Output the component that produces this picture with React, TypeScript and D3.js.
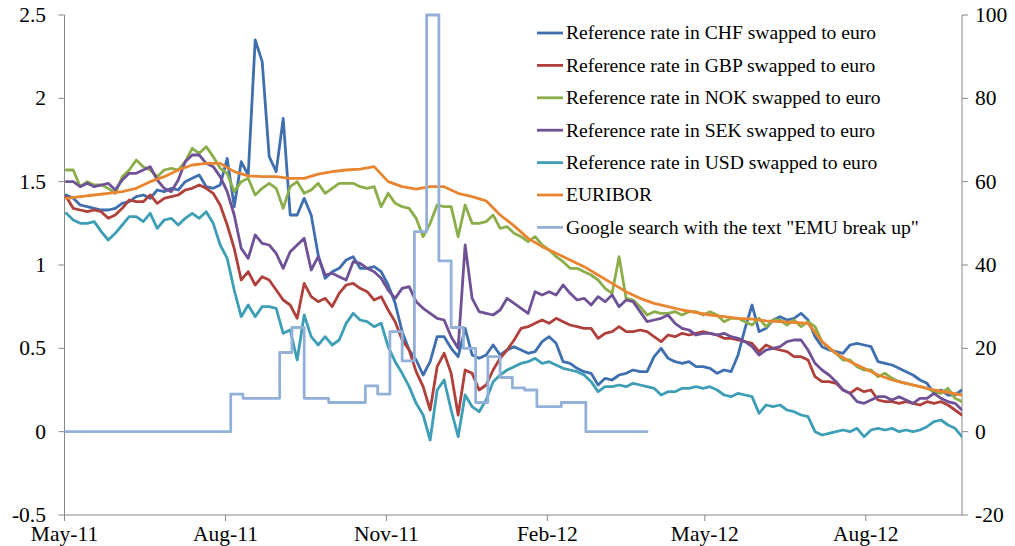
import React from "react";
import * as d3 from "d3";

// ---------- data ----------
const xTickDates = [
  new Date(2011, 4, 1), new Date(2011, 7, 1), new Date(2011, 10, 1),
  new Date(2012, 1, 1), new Date(2012, 4, 1), new Date(2012, 7, 1),
];
const xTickLabels = ["May-11", "Aug-11", "Nov-11", "Feb-12", "May-12", "Aug-12"];
const leftTicks = [-0.5, 0, 0.5, 1, 1.5, 2, 2.5];
const leftTickLabels = ["-0.5", "0", "0.5", "1", "1.5", "2", "2.5"];
const rightTicks = [-20, 0, 20, 40, 60, 80, 100];
const rightTickLabels = ["-20", "0", "20", "40", "60", "80", "100"];

// daily series sampled every 4 days starting 2 May 2011
const chf = [1.42,1.40,1.36,1.35,1.34,1.33,1.33,1.34,1.37,1.38,
1.41,1.42,1.40,1.45,1.44,1.46,1.45,1.50,1.52,1.54,
1.47,1.46,1.48,1.64,1.35,1.62,1.54,2.35,2.22,1.65,
1.56,1.88,1.30,1.30,1.40,1.30,1.06,0.92,0.96,0.98,
1.03,1.05,0.98,0.98,0.99,0.96,0.88,0.77,0.60,0.49,
0.43,0.34,0.42,0.57,0.57,0.50,0.45,0.62,0.46,0.44,
0.46,0.52,0.46,0.49,0.51,0.49,0.47,0.48,0.54,0.57,
0.53,0.42,0.41,0.38,0.36,0.35,0.28,0.32,0.31,0.34,
0.35,0.37,0.36,0.36,0.45,0.50,0.44,0.42,0.41,0.42,
0.39,0.39,0.38,0.35,0.37,0.36,0.46,0.62,0.76,0.60,
0.62,0.67,0.69,0.67,0.68,0.71,0.67,0.57,0.51,0.49,
0.48,0.47,0.52,0.53,0.52,0.51,0.42,0.41,0.40,0.38,
0.36,0.34,0.31,0.29,0.23,0.25,0.22,0.22,0.25];
const gbp = [1.41,1.34,1.33,1.32,1.33,1.32,1.28,1.30,1.34,1.39,
1.38,1.38,1.42,1.37,1.40,1.41,1.42,1.45,1.46,1.48,
1.46,1.43,1.36,1.24,1.10,0.91,0.96,0.88,0.93,0.91,
0.85,0.79,0.76,0.68,0.89,0.81,0.78,0.80,0.75,0.83,
0.88,0.89,0.86,0.84,0.79,0.81,0.73,0.66,0.55,0.49,
0.36,0.27,0.13,0.39,0.47,0.35,0.10,0.37,0.35,0.25,
0.28,0.37,0.44,0.49,0.55,0.62,0.63,0.65,0.67,0.65,
0.68,0.66,0.64,0.63,0.62,0.62,0.56,0.59,0.60,0.63,
0.60,0.60,0.61,0.60,0.57,0.54,0.58,0.57,0.59,0.58,
0.59,0.60,0.59,0.58,0.56,0.56,0.55,0.54,0.53,0.48,
0.52,0.50,0.49,0.48,0.45,0.45,0.43,0.33,0.30,0.30,
0.29,0.25,0.23,0.26,0.24,0.25,0.19,0.18,0.18,0.17,
0.18,0.17,0.16,0.18,0.17,0.18,0.16,0.13,0.10];
const nok = [1.57,1.57,1.47,1.50,1.48,1.48,1.46,1.43,1.53,1.57,
1.63,1.59,1.57,1.53,1.57,1.58,1.57,1.62,1.70,1.67,
1.71,1.65,1.58,1.55,1.44,1.50,1.52,1.42,1.46,1.49,
1.46,1.34,1.47,1.50,1.43,1.45,1.49,1.43,1.46,1.49,
1.49,1.49,1.47,1.46,1.47,1.35,1.43,1.37,1.35,1.34,
1.28,1.17,1.25,1.36,1.35,1.35,1.17,1.36,1.25,1.25,
1.26,1.30,1.22,1.23,1.19,1.17,1.14,1.17,1.12,1.09,
1.05,1.02,0.98,0.98,0.96,0.94,0.91,0.86,0.83,1.05,
0.80,0.79,0.75,0.70,0.72,0.71,0.71,0.72,0.70,0.72,
0.72,0.70,0.72,0.70,0.66,0.68,0.68,0.66,0.64,0.68,
0.63,0.67,0.67,0.64,0.67,0.63,0.66,0.63,0.54,0.50,
0.47,0.43,0.43,0.39,0.37,0.37,0.33,0.35,0.32,0.30,
0.29,0.28,0.27,0.26,0.24,0.23,0.26,0.20,0.18];
const sek = [1.50,1.50,1.47,1.49,1.47,1.48,1.49,1.45,1.51,1.55,
1.55,1.57,1.59,1.51,1.46,1.44,1.51,1.62,1.66,1.66,
1.61,1.59,1.53,1.44,1.30,1.10,1.04,1.18,1.13,1.12,
1.07,0.98,1.08,1.12,1.16,0.97,1.05,0.94,0.95,0.93,
0.91,1.02,1.01,0.98,0.96,0.92,0.85,0.80,0.86,0.87,
0.78,0.74,0.71,0.68,0.67,0.57,0.50,1.12,0.80,0.72,
0.71,0.70,0.73,0.80,0.77,0.74,0.71,0.84,0.82,0.84,
0.82,0.88,0.83,0.79,0.80,0.76,0.81,0.78,0.82,0.75,
0.79,0.78,0.72,0.66,0.67,0.68,0.70,0.65,0.62,0.61,
0.58,0.59,0.59,0.58,0.59,0.57,0.56,0.54,0.51,0.46,
0.49,0.50,0.51,0.54,0.55,0.55,0.49,0.41,0.37,0.34,
0.30,0.25,0.23,0.18,0.17,0.19,0.21,0.21,0.19,0.21,
0.19,0.17,0.20,0.20,0.23,0.20,0.18,0.17,0.13];
const usd = [1.31,1.27,1.25,1.25,1.26,1.20,1.15,1.19,1.24,1.29,
1.29,1.26,1.31,1.22,1.27,1.28,1.24,1.28,1.31,1.28,
1.32,1.25,1.12,1.04,0.85,0.69,0.76,0.69,0.75,0.75,
0.74,0.59,0.61,0.43,0.70,0.57,0.52,0.57,0.52,0.55,
0.65,0.71,0.67,0.66,0.63,0.65,0.51,0.42,0.35,0.27,
0.17,0.10,-0.05,0.25,0.31,0.13,-0.03,0.22,0.15,0.12,
0.19,0.30,0.34,0.37,0.39,0.41,0.42,0.44,0.41,0.42,
0.40,0.38,0.37,0.36,0.34,0.30,0.24,0.27,0.27,0.28,
0.27,0.29,0.28,0.27,0.26,0.22,0.24,0.24,0.26,0.26,
0.27,0.26,0.27,0.25,0.22,0.21,0.23,0.22,0.21,0.11,
0.16,0.15,0.16,0.13,0.12,0.10,0.09,0.00,-0.02,-0.01,
0.00,0.01,0.00,0.02,-0.03,0.01,0.02,0.01,0.02,0.00,
0.01,0.00,0.01,0.03,0.06,0.07,0.04,0.02,-0.03];
// EURIBOR sampled every 8 days starting 2 May 2011
const euribor = [1.40,1.41,1.42,1.43,1.44,1.46,1.50,1.53,1.57,1.60,
1.61,1.61,1.56,1.535,1.53,1.53,1.52,1.52,1.545,1.56,
1.57,1.575,1.59,1.50,1.47,1.455,1.47,1.47,1.43,1.41,
1.385,1.30,1.235,1.16,1.11,1.07,1.03,0.99,0.94,0.89,
0.84,0.80,0.77,0.75,0.73,0.715,0.70,0.69,0.68,0.675,
0.665,0.66,0.655,0.65,0.54,0.47,0.42,0.38,0.34,0.31,
0.29,0.27,0.25,0.235,0.22];
// Google search index, weekly from 28 Apr 2011 (right axis)
const google = [0,0,0,0,0,0,0,0,0,0,0,0,0,0,
9,8,8,8,19,25,8,8,7,7,7,11,9,24,17,48,100,41,25,20,7,18,13,10.5,10,6,6,7,7,
0,0,0,0,0,0];

const seriesNames = [
  "Reference rate in CHF swapped to euro",
  "Reference rate in GBP swapped to euro",
  "Reference rate in NOK swapped to euro",
  "Reference rate in SEK swapped to euro",
  "Reference rate in USD swapped to euro",
  "EURIBOR",
  "Google search with the text \"EMU break up\"",
];
const seriesColors = ["#3F6FAE", "#B0403C", "#8BAE4A", "#6F5196", "#3D9EB5", "#E98530", "#93B0D8"];

const day = (d: number) => new Date(2011, 4, d);
const toPts = (vals: number[], startDay: number, step: number) =>
  vals.map((v, i) => ({ date: day(startDay + step * i), v }));

export default function App() {
  const W = 1015, H = 546;
  const x = d3.scaleTime().domain([new Date(2011, 4, 1), new Date(2012, 8, 25)]).range([64.5, 962]);
  const yL = d3.scaleLinear().domain([-0.5, 2.5]).range([515, 15]);
  const yR = d3.scaleLinear().domain([-20, 100]).range([515, 15]);

  const lineL = d3.line<{ date: Date; v: number }>().x(d => x(d.date)).y(d => yL(d.v));
  const lineR = d3.line<{ date: Date; v: number }>().x(d => x(d.date)).y(d => yR(d.v)).curve(d3.curveStepAfter);

  const dailySeries = [chf, gbp, nok, sek, usd].map(s => toPts(s, 2, 4));
  const eurPts = toPts(euribor, 2, 8);
  const googlePts = toPts(google, -2, 7);

  const font = "'Liberation Serif', 'Times New Roman', serif";
  const axisColor = "#868686";
  const legendY0 = 33, legendStep = 32.4;
  const sw = 2.8;

  return (
    <div style={{ position: "absolute", left: 0, top: 0 }}>
      <svg width={W} height={H} style={{ display: "block", background: "#fff" }} fontFamily={font}>
        <defs>
          <clipPath id="plot">
            <rect x={64.5} y={8} width={962 - 64.5} height={515 - 8} />
          </clipPath>
        </defs>
        {/* axes */}
        <line x1={64.5} x2={64.5} y1={15} y2={515} stroke={axisColor} strokeWidth={1} />
        <line x1={962} x2={962} y1={15} y2={515} stroke={axisColor} strokeWidth={1} />
        <line x1={64.5} x2={962} y1={515} y2={515} stroke={axisColor} strokeWidth={1} />
        {leftTicks.map((t, i) => (
          <g key={"l" + i}>
            <line x1={58.5} x2={64.5} y1={yL(t)} y2={yL(t)} stroke={axisColor} />
            <text x={46} y={yL(t)} dy="0.33em" textAnchor="end" fontSize={21.5} fill="#000">{leftTickLabels[i]}</text>
          </g>
        ))}
        {rightTicks.map((t, i) => (
          <g key={"r" + i}>
            <line x1={962} x2={968} y1={yR(t)} y2={yR(t)} stroke={axisColor} />
            <text x={975} y={yR(t)} dy="0.33em" textAnchor="start" fontSize={21.5} fill="#000">{rightTickLabels[i]}</text>
          </g>
        ))}
        {xTickDates.map((t, i) => (
          <g key={"x" + i}>
            <line x1={x(t)} x2={x(t)} y1={515} y2={521} stroke={axisColor} />
            <text x={x(t)} y={541} textAnchor="middle" fontSize={21.5} fill="#000">{xTickLabels[i]}</text>
          </g>
        ))}
        {/* lines */}
        <g clipPath="url(#plot)" fill="none" strokeWidth={sw} strokeLinejoin="round" strokeLinecap="round">
          {dailySeries.map((pts, i) => (
            <path key={"s" + i} d={lineL(pts) || ""} stroke={seriesColors[i]} />
          ))}
          <path d={lineL(eurPts) || ""} stroke={seriesColors[5]} />
          <path d={lineR(googlePts) || ""} stroke={seriesColors[6]} />
        </g>
        {/* legend */}
        {seriesNames.map((n, i) => (
          <g key={"lg" + i}>
            <line x1={537} x2={563} y1={legendY0 + i * legendStep} y2={legendY0 + i * legendStep} stroke={seriesColors[i]} strokeWidth={sw} />
            <text x={566} y={legendY0 + i * legendStep} dy="0.33em" fontSize={19.6} fill="#000">{n}</text>
          </g>
        ))}
      </svg>
    </div>
  );
}
